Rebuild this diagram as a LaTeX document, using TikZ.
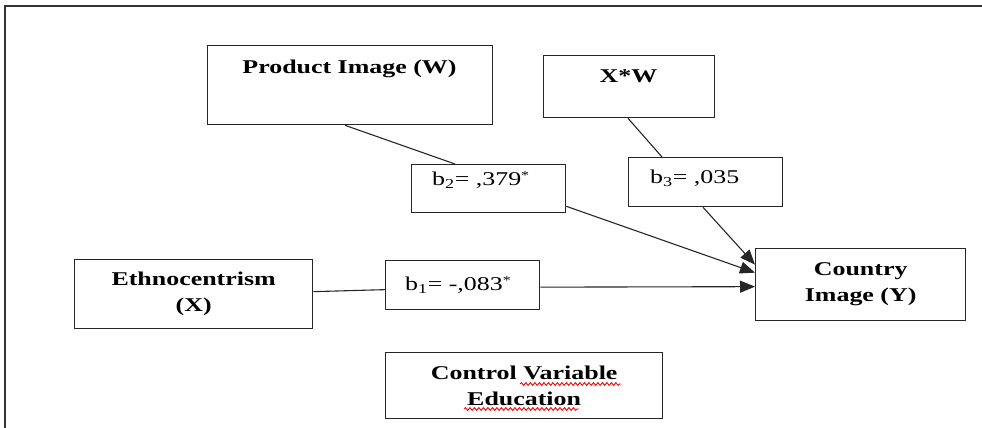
\documentclass[tikz,border=0pt]{standalone}
\usepackage{fontspec}
\setmainfont{Liberation Serif}[FakeStretch=1.33]
\usetikzlibrary{arrows.meta,calc,decorations.pathmorphing}
\newcommand{\sigstar}{\raisebox{5.5pt}{\fontsize{12pt}{12pt}\selectfont *}}
\begin{document}
\begin{tikzpicture}[x=1pt,y=-1pt,
  every node/.style={font=\fontsize{19.5pt}{26pt}\selectfont},
  box/.style={draw, line width=1.3pt, draw=black!85, inner sep=0pt, anchor=north west, align=center,
    font=\fontsize{19.5pt}{26pt}\selectfont\bfseries},
  lbl/.style={inner sep=0pt, anchor=base, font=\fontsize{19.5pt}{26pt}\selectfont\bfseries},
  coef/.style={inner sep=0pt, anchor=base west},
  conn/.style={line width=1.1pt, draw=black!85},
  arr/.style={conn, -{Triangle[length=15pt,width=12pt]}},
  squiggle/.style={red, line width=0.9pt, decorate, decoration={snake, amplitude=1.4pt, segment length=4.5pt}}
]
\useasboundingbox (0,0) rectangle (982,428);
% outer frame
\draw[line width=2.2pt, black!80] (5,428) -- (5,6) -- (982,6);

% boxes
\node[box, minimum width=285pt, minimum height=79pt] (pi) at (207,45) {};
\node[lbl] (pit) at (349.5,74) {Product Image (W)};
\node[box, minimum width=171pt, minimum height=62pt] (xw) at (543,55) {};
\node[lbl] (xwt) at (628.5,82) {X*W};

\node[box, minimum width=154pt, minimum height=48pt] (b2) at (411,164) {};
\node[coef] (b2t) at (432,185) {b\textsubscript{2}= ,379\sigstar};
\node[box, minimum width=154pt, minimum height=49pt] (b3) at (628,157) {};
\node[coef] (b3t) at (650,183) {b\textsubscript{3}= ,035};
\node[box, minimum width=154pt, minimum height=49pt] (b1) at (385,260) {};
\node[coef] (b1t) at (405,290) {b\textsubscript{1}= -,083\sigstar};

\node[box, minimum width=238pt, minimum height=69pt] (et) at (74,259) {Ethnocentrism\\(X)};
\node[box, minimum width=210pt, minimum height=72pt] (cy) at (755,248) {Country\\Image (Y)};
\node[box, minimum width=277pt, minimum height=66pt] (cv) at (385,352) {Control Variable\\Education};

% spell-check squiggles
\draw[squiggle] (520,384) -- (621,384);
\draw[squiggle] (464,409) -- (579,409);

% connectors
\draw[conn] ([xshift=138pt]pi.south west) -- ([xshift=44pt]b2.north west);
\draw[arr] ([yshift=7pt]b2.south east) -- ([yshift=12pt]cy.west);
\draw[conn] ([xshift=85pt]xw.south west) -- ([xshift=34pt]b3.north west);
\draw[arr] ([xshift=75pt]b3.south west) -- ([yshift=20pt]cy.west);
\draw[conn] ([yshift=2.5pt]et.east) -- ([yshift=-4.5pt]b1.west);
\draw[arr] ([yshift=-2pt]b1.east) -- ([yshift=-2pt]cy.west);
\end{tikzpicture}
\end{document}
